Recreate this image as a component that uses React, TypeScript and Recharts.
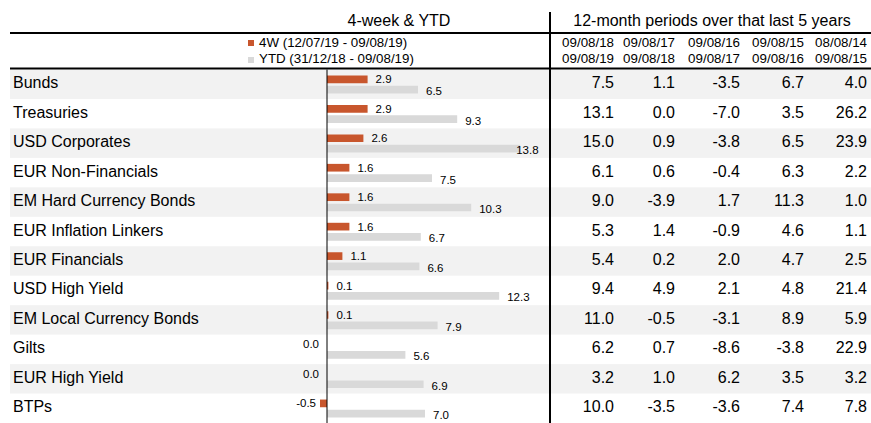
import React from "react";
import { BarChart, Bar, XAxis, YAxis, ReferenceLine, LabelList } from "recharts";

const categories = [
  "Bunds",
  "Treasuries",
  "USD Corporates",
  "EUR Non-Financials",
  "EM Hard Currency Bonds",
  "EUR Inflation Linkers",
  "EUR Financials",
  "USD High Yield",
  "EM Local Currency Bonds",
  "Gilts",
  "EUR High Yield",
  "BTPs",
];
const fourWeek = [2.9, 2.9, 2.6, 1.6, 1.6, 1.6, 1.1, 0.1, 0.1, 0.0, 0.0, -0.5];
const ytd = [6.5, 9.3, 13.8, 7.5, 10.3, 6.7, 6.6, 12.3, 7.9, 5.6, 6.9, 7.0];
const period1 = [7.5, 13.1, 15.0, 6.1, 9.0, 5.3, 5.4, 9.4, 11.0, 6.2, 3.2, 10.0];
const period2 = [1.1, 0.0, 0.9, 0.6, -3.9, 1.4, 0.2, 4.9, -0.5, 0.7, 1.0, -3.5];
const period3 = [-3.5, -7.0, -3.8, -0.4, 1.7, -0.9, 2.0, 2.1, -3.1, -8.6, 6.2, -3.6];
const period4 = [6.7, 3.5, 6.5, 6.3, 11.3, 4.6, 4.7, 4.8, 8.9, -3.8, 3.5, 7.4];
const period5 = [4.0, 26.2, 23.9, 2.2, 1.0, 1.1, 2.5, 21.4, 5.9, 22.9, 3.2, 7.8];
const periodStarts = ["09/08/18", "09/08/17", "09/08/16", "09/08/15", "08/08/14"];
const periodEnds = ["09/08/19", "09/08/18", "09/08/17", "09/08/16", "09/08/15"];
const legendLabels = ["4W (12/07/19 - 09/08/19)", "YTD (31/12/18 - 09/08/19)"];

const periods = [period1, period2, period3, period4, period5];

const data = categories.map((name, i) => ({
  name,
  w4: fourWeek[i],
  ytd: ytd[i],
  periods: periods.map((p) => p[i]),
}));

const FONT = "'Liberation Sans', Arial, Helvetica, sans-serif";
const ORANGE = "#C8562D";
const GREY = "#D9D9D9";
const STRIPE = "#F2F2F2";
const COL_RIGHT = [614, 675, 740, 804, 867];
const ROW_H = (423 - 69.5) / categories.length;
const MARGIN = { top: 69.5, right: 320, bottom: 0, left: 298 };
const X_DOMAIN: [number, number] = [-2, 16];

// stripes + row label + 12-month columns, drawn from the category axis
const RowTick = (props: any) => {
  const { y, payload } = props;
  const i = categories.indexOf(payload.value);
  const row = data[i];
  if (!row) return null;
  return (
    <g>
      {i % 2 === 0 && (
        <rect x={10} y={y - ROW_H / 2} width={861} height={ROW_H} fill={STRIPE} />
      )}
      <text x={13} y={y + 4} fontSize={16} fontFamily={FONT} fill="#000">
        {row.name}
      </text>
      {row.periods.map((v: number, k: number) => (
        <text
          key={k}
          x={COL_RIGHT[k]}
          y={y + 4}
          fontSize={16}
          fontFamily={FONT}
          fill="#000"
          textAnchor="end"
        >
          {v.toFixed(1)}
        </text>
      ))}
    </g>
  );
};

const makeLabel = (dy: number) => (props: any) => {
  const { x, y, width, height, value } = props;
  const v = Number(value);
  const end = x + width;
  const cy = y + height / 2 + dy + 4;
  const txt = v.toFixed(1);
  if (v <= 0) {
    return (
      <text
        x={v === 0 ? end - 8 : end - 4}
        y={cy}
        fontSize={11.5}
        fontFamily={FONT}
        fill="#000"
        textAnchor="end"
      >
        {txt}
      </text>
    );
  }
  const w = txt.length * 6.2;
  const lx = Math.min(end + 8, 541 - w);
  return (
    <text x={lx} y={cy} fontSize={11.5} fontFamily={FONT} fill="#000">
      {txt}
    </text>
  );
};

const Header = () => (
  <svg
    width={871}
    height={423}
    style={{ position: "absolute", left: 0, top: 0, pointerEvents: "none" }}
  >
    <text x={399} y={26} fontSize={16} fontFamily={FONT} textAnchor="middle">
      4-week &amp; YTD
    </text>
    <text x={712} y={26} fontSize={16} fontFamily={FONT} textAnchor="middle">
      12-month periods over that last 5 years
    </text>
    <rect x={10} y={32} width={861} height={2} fill="#000" />
    <rect x={10} y={67.5} width={861} height={2} fill="#000" />
    <rect x={549} y={12} width={2} height={411} fill="#000" />
    <rect x={248} y={40} width={6} height={6} fill={ORANGE} />
    <rect x={248} y={57} width={6} height={6} fill={GREY} />
    {legendLabels.map((l, k) => (
      <text key={l} x={259} y={46.5 + k * 16.5} fontSize={13.33} fontFamily={FONT}>
        {l}
      </text>
    ))}
    {periodStarts.map((d, k) => (
      <text
        key={"s" + k}
        x={COL_RIGHT[k]}
        y={46.5}
        fontSize={13.33}
        fontFamily={FONT}
        textAnchor="end"
      >
        {d}
      </text>
    ))}
    {periodEnds.map((d, k) => (
      <text
        key={"e" + k}
        x={COL_RIGHT[k]}
        y={63}
        fontSize={13.33}
        fontFamily={FONT}
        textAnchor="end"
      >
        {d}
      </text>
    ))}
  </svg>
);

const layer: React.CSSProperties = { position: "absolute", left: 0, top: 0 };

export default function App() {
  return (
    <div
      style={{
        position: "absolute",
        left: 0,
        top: 0,
        width: 871,
        height: 423,
        background: "#fff",
        fontFamily: FONT,
      }}
    >
      {/* table layer underneath */}
      <div style={layer}>
        <BarChart width={871} height={423} data={data} layout="vertical" margin={MARGIN}>
          <YAxis
            type="category"
            dataKey="name"
            width={1}
            axisLine={false}
            tickLine={false}
            interval={0}
            tick={<RowTick />}
          />
          <XAxis type="number" domain={X_DOMAIN} hide />
        </BarChart>
      </div>
      {/* bars on top */}
      <div style={layer}>
        <BarChart
          width={871}
          height={423}
          data={data}
          layout="vertical"
          margin={MARGIN}
          barSize={7.7}
          barGap={2.6}
        >
          <YAxis
            type="category"
            dataKey="name"
            width={1}
            axisLine={false}
            tickLine={false}
            tick={false}
          />
          <XAxis type="number" domain={X_DOMAIN} hide />
          <Bar
            dataKey="w4"
            fill={ORANGE}
            isAnimationActive={false}
            minPointSize={(v: number) => (v === 0 ? 0.01 : 0)}
          >
            <LabelList dataKey="w4" content={makeLabel(0)} />
          </Bar>
          <Bar dataKey="ytd" fill={GREY} isAnimationActive={false}>
            <LabelList dataKey="ytd" content={makeLabel(1.5)} />
          </Bar>
          <ReferenceLine x={0} stroke="#000" strokeWidth={1} ifOverflow="visible" />
        </BarChart>
      </div>
      <Header />
    </div>
  );
}
